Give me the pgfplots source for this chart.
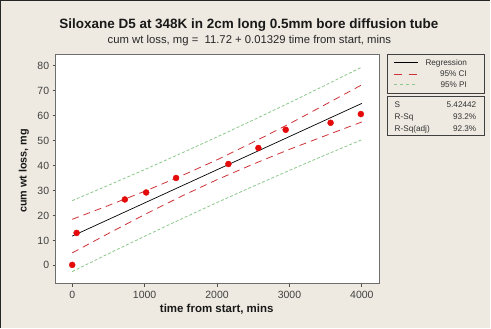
\documentclass[border=0pt]{standalone}
\usepackage{pgfplots}
\pgfplotsset{compat=1.18}
\usepackage{fontspec}
\setmainfont{Liberation Sans}
\definecolor{bg}{RGB}{238,234,225}
\definecolor{ptred}{RGB}{228,10,10}
\definecolor{cired}{RGB}{205,50,55}
\definecolor{pigreen}{RGB}{140,200,140}
\definecolor{frame}{RGB}{110,110,110}
\begin{document}
\begin{tikzpicture}[x=1pt,y=1pt]
\fill[bg] (0,0) rectangle (491,328);
\draw[black!85, line width=1.2pt] (0.6,0) -- (0.6,327.4) -- (491,327.4);
\begin{axis}[
  at={(55.7pt,44pt)}, anchor=south west, scale only axis,
  width=324.3pt, height=229.7pt,
  xmin=-229, xmax=4244, ymin=-7.32, ymax=84.56,
  axis background/.style={fill=white},
  axis line style={frame, line width=1pt},
  xtick={0,1000,...,4000}, ytick={0,10,...,80},
  tick align=outside, tick pos=left, major tick length=3pt,
  tick style={black!70, line width=0.8pt},
  ticklabel style={font=\fontsize{10.5}{12}\selectfont, text=black!75},
  /pgf/number format/assume math mode=true,
  scaled x ticks=false,
  xticklabel style={/pgf/number format/1000 sep={}, yshift=-1.5pt},
]
\addplot[black, line width=0.7pt] coordinates {(0,11.72) (4000,64.88)};
\addplot[cired, line width=0.8pt, dash pattern=on 7pt off 5pt] coordinates {
(0,18.44) (500,23.97) (1000,29.67) (1500,35.75) (2000,42.28) (2500,49.34) (3000,56.71) (3500,64.49) (4000,72.32)};
\addplot[pigreen, line width=0.8pt, dash pattern=on 3pt off 2pt] coordinates {
(0,25.92) (500,32.08) (1000,38.36) (1500,44.82) (2000,51.43) (2500,58.21) (3000,65.13) (3500,72.22) (4000,79.44)};
\addplot[cired, line width=0.8pt, dash pattern=on 7pt off 5pt] coordinates {
(0,5.00) (500,12.77) (1000,20.35) (1500,27.57) (2000,34.32) (2500,40.56) (3000,46.47) (3500,51.99) (4000,57.44)};
\addplot[pigreen, line width=0.8pt, dash pattern=on 3pt off 2pt] coordinates {
(0,-2.48) (500,4.66) (1000,11.66) (1500,18.50) (2000,25.17) (2500,31.69) (3000,38.05) (3500,44.26) (4000,50.32)};
\addplot[only marks, mark=*, mark size=3pt, ptred] coordinates {
(0,0.2) (61,13.0) (727,26.4) (1021,29.2) (1434,35.0) (2157,40.6) (2571,47.0) (2948,54.3) (3568,57.1) (3986,60.6)};
\end{axis}
% legend box
\draw[black!75, line width=0.8pt] (388.3,274) rectangle (485,234.7);
\draw[black, line width=0.7pt] (394.3,265.3) -- (418.3,265.3);
\draw[cired, line width=0.8pt, dash pattern=on 8pt off 7pt] (394.3,254) -- (417.3,254);
\draw[pigreen, line width=0.8pt, dash pattern=on 3pt off 3pt] (394.3,243.3) -- (417.3,243.3);
% stats box
\draw[black!75, line width=0.8pt] (388.3,231.3) rectangle (485,192);
\begin{scope}[every node/.style={font=\fontsize{8.2}{9}\selectfont, text=black!80, inner sep=0pt}]
\node[anchor=base east] at (467.7,262.4) {Regression};
\node[anchor=base east] at (467.7,251.1) {95\% CI};
\node[anchor=base east] at (467.7,240.4) {95\% PI};
\node[anchor=base west] at (395,220.2) {S};
\node[anchor=base east] at (477,220.2) {5.42442};
\node[anchor=base west] at (395,208.2) {R-Sq};
\node[anchor=base east] at (477,208.2) {93.2\%};
\node[anchor=base west] at (395,196.2) {R-Sq(adj)};
\node[anchor=base east] at (477,196.2) {92.3\%};
\end{scope}
% titles and labels
\node[font=\bfseries\fontsize{13.5}{15}\selectfont, text=black!90] at (249.2,302.5) {Siloxane D5 at 348K in 2cm long 0.5mm bore diffusion tube};
\node[font=\fontsize{11.3}{13}\selectfont, text=black!85] at (249.7,287.5) {cum wt loss, mg =\ \ 11.72 + 0.01329 time from start, mins};
\node[font=\bfseries\fontsize{11.5}{13}\selectfont, text=black!90] at (217,18) {time from start, mins};
\node[font=\bfseries\fontsize{10.8}{12}\selectfont, text=black!90, rotate=90] at (24,157) {cum wt loss, mg};
\end{tikzpicture}
\end{document}
